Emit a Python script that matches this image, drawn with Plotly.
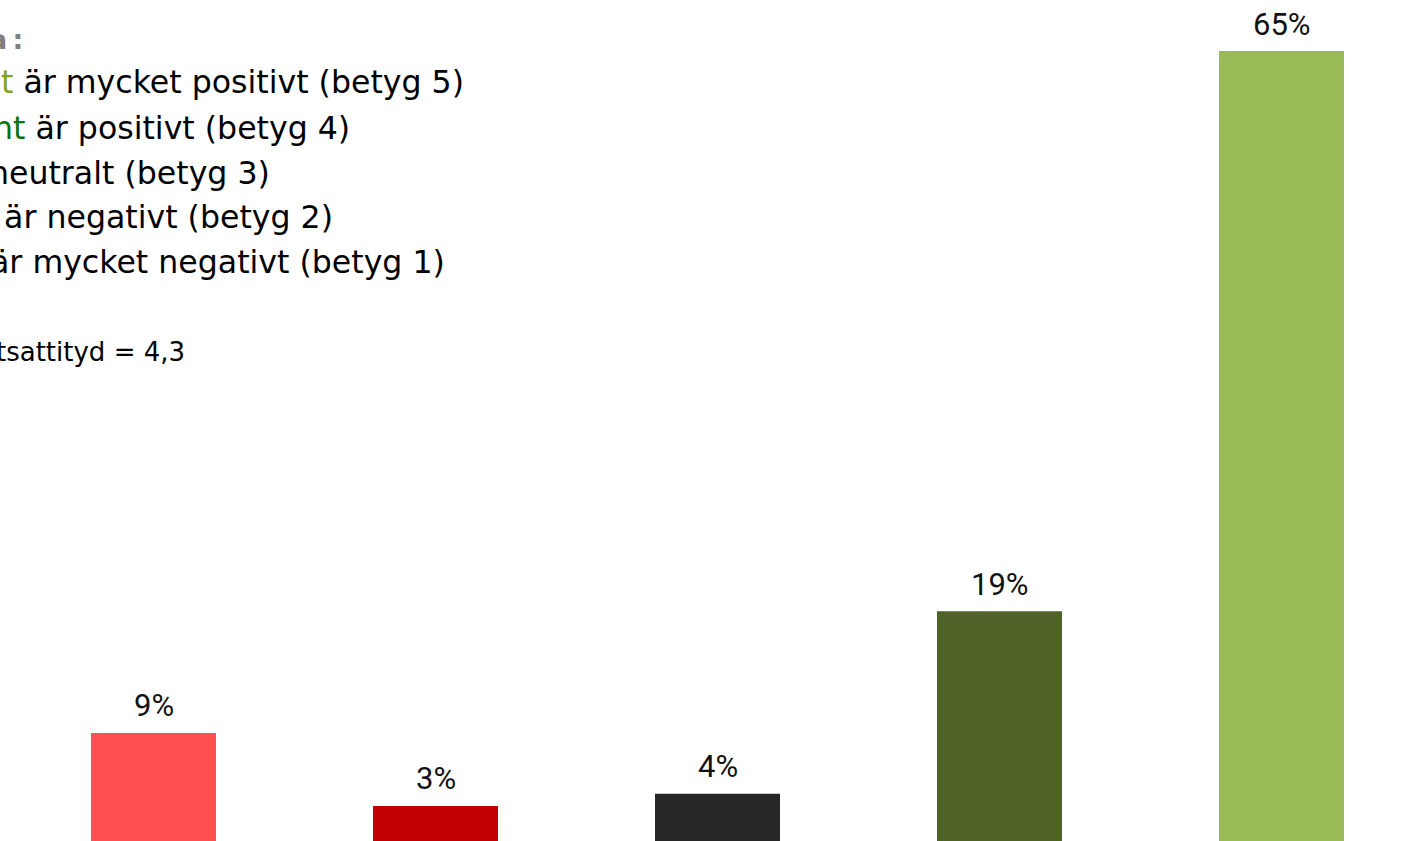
import plotly.graph_objects as go

# Data
categories = ["Betyg 1", "Betyg 2", "Betyg 3", "Betyg 4", "Betyg 5"]
values = [9, 3, 4, 19, 65]
bar_colors = ["#FF5050", "#C00000", "#262626", "#4F6228", "#9BBB59"]

legend_lines = [
    '<span style="color:#80A41C">t</span> är mycket positivt (betyg 5)',
    '<span style="color:#0B730B">nt</span> är positivt (betyg 4)',
    'neutralt (betyg 3)',
    ' är negativt (betyg 2)',
    'är mycket negativt (betyg 1)',
]
legend_right = [466, 352, 272, 335, 447]
legend_y = [82, 128, 173, 217, 262]
header_text = "a\u2009:"
summary_text = "tsattityd = 4,3"

W, H = 1404, 841

fig = go.Figure(
    go.Bar(
        x=categories,
        y=values,
        marker=dict(color=bar_colors, line=dict(width=0)),
        hoverinfo="skip",
    )
)

for c, v in zip(categories, values):
    fig.add_annotation(
        x=c, y=v, xref="x", yref="y", text=f"{v}%",
        showarrow=False, xanchor="center", yanchor="middle", yshift=27,
        font=dict(family="Roboto", size=31, color="#111111"),
    )

fig.update_layout(
    width=W,
    height=H,
    autosize=False,
    margin=dict(l=0, r=0, t=0, b=0),
    paper_bgcolor="white",
    plot_bgcolor="white",
    showlegend=False,
    bargap=1 - 125 / 282,
    xaxis=dict(range=[-153.5 / 282, -153.5 / 282 + W / 282], visible=False, fixedrange=True),
    yaxis=dict(range=[0.123, 69.19], visible=False, fixedrange=True),
)

def px(x):
    return x / W

def py(y):
    return 1 - y / H

fig.add_annotation(
    text="<b>" + header_text + "</b>", x=px(25), y=py(40), xref="paper", yref="paper",
    xanchor="right", yanchor="middle", showarrow=False,
    font=dict(family="DejaVu Sans", size=27, color="#7F7F7F"),
)

for txt, xr, yc in zip(legend_lines, legend_right, legend_y):
    fig.add_annotation(
        text=txt, x=px(xr), y=py(yc), xref="paper", yref="paper",
        xanchor="right", yanchor="middle", showarrow=False,
        font=dict(family="DejaVu Sans", size=31.6, color="#000000"),
    )

fig.add_annotation(
    text=summary_text, x=px(187), y=py(352), xref="paper", yref="paper",
    xanchor="right", yanchor="middle", showarrow=False,
    font=dict(family="DejaVu Sans", size=26, color="#000000"),
)

fig.write_html(
    "out.html",
    config={"displayModeBar": False},
    post_script="document.body.style.margin='0';document.body.style.overflow='hidden';",
)
